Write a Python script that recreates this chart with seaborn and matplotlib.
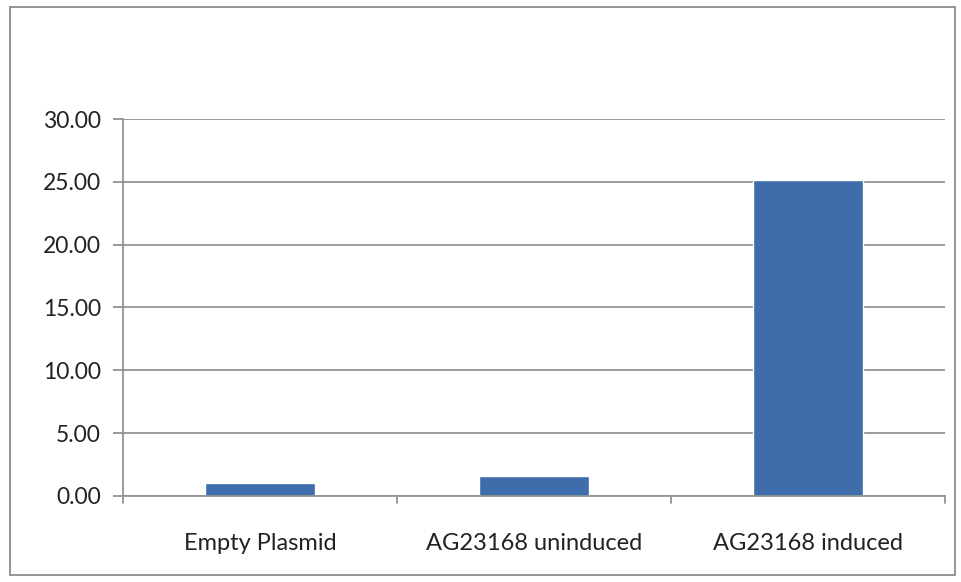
import seaborn as sns
import matplotlib.pyplot as plt
import pandas as pd
from matplotlib.patches import Rectangle

categories = ['Empty Plasmid', 'AG23168 uninduced', 'AG23168 induced']
values = [1.01, 1.60, 25.15]
yticks = [0, 5, 10, 15, 20, 25, 30]

df = pd.DataFrame({'sample': categories, 'value': values})

sns.set_style('white')
plt.rcParams['font.family'] = ['Lato', 'DejaVu Sans']

fig = plt.figure(figsize=(9.62, 5.82), dpi=100)
ax = fig.add_axes([0.1279, 0.1478, 0.8544, 0.6477])

# outer chart border
fig.patches.append(Rectangle((0.0104, 0.012), 0.982, 0.976, transform=fig.transFigure,
                             fill=False, edgecolor='#8a8f8a', linewidth=1.3))

sns.barplot(data=df, x='sample', y='value', order=categories, color='#3f6dab',
            saturation=1, width=0.4, ax=ax)

ax.set_xlim(-0.5, 2.5)
ax.set_ylim(0, 30)
ax.set_yticks(yticks)
ax.set_yticklabels([f'{v:.2f}' for v in yticks], fontsize=16.5, color='#222222')
ax.yaxis.grid(True, color='#8f9590', linewidth=1.3)
ax.set_axisbelow(True)
ax.tick_params(axis='y', length=7, width=1.3, color='#8f9590', pad=9, left=True)
ax.tick_params(axis='x', length=0, labelsize=17, labelcolor='#222222', pad=27)

# category boundary ticks
for b in [-0.5, 0.5, 1.5, 2.5]:
    ax.plot([b, b], [0, -0.55], color='#8f9590', linewidth=1.3, clip_on=False)

for s in ['top', 'right']:
    ax.spines[s].set_visible(False)
ax.spines['left'].set_color('#8f9590')
ax.spines['bottom'].set_color('#8f9590')
ax.spines['left'].set_linewidth(1.3)
ax.spines['bottom'].set_linewidth(1.3)
ax.set_xlabel('')
ax.set_ylabel('')

fig.savefig('out.png', dpi=100, facecolor='white')
